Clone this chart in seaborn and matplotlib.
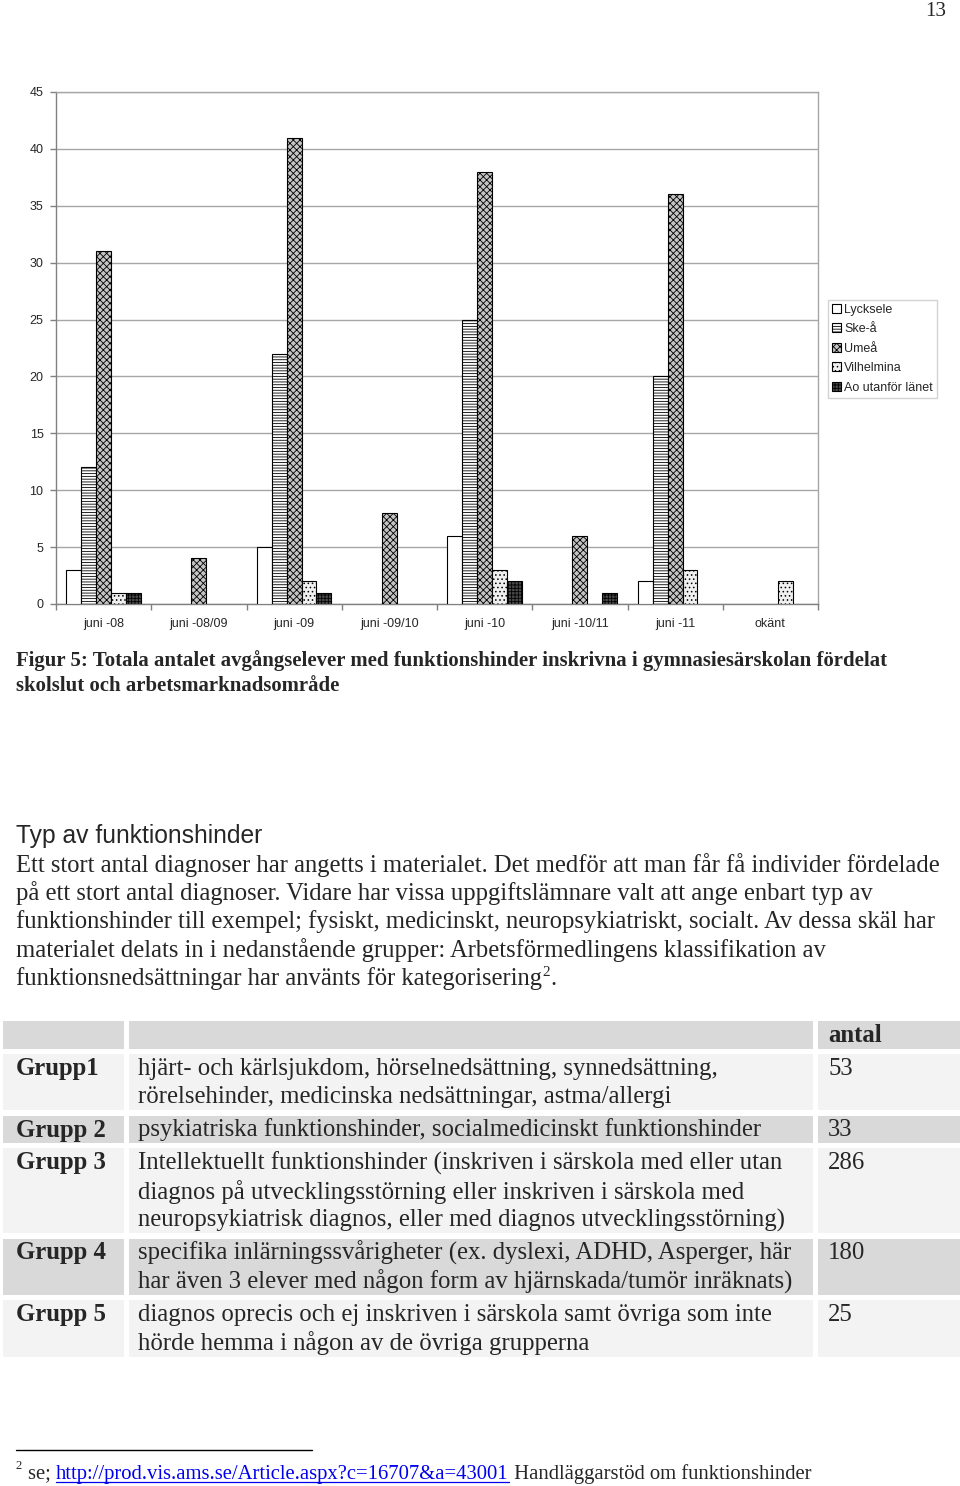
import numpy as np
import pandas as pd
import matplotlib
matplotlib.use("Agg")
import matplotlib.pyplot as plt
import seaborn as sns
from matplotlib.patches import Rectangle, Patch
from matplotlib.colors import to_hex

# ---------------- data ----------------
periods = ["juni -08", "juni -08/09", "juni -09", "juni -09/10",
           "juni -10", "juni -10/11", "juni -11", "okänt"]
areas = ["Lycksele", "Ske-å", "Umeå", "Vilhelmina", "Ao utanför länet"]
lycksele = [3, 0, 5, 0, 6, 0, 2, 0]
skea = [12, 0, 22, 0, 25, 0, 20, 0]
umea = [31, 4, 41, 8, 38, 6, 36, 0]
vilhelmina = [1, 0, 2, 0, 3, 0, 3, 2]
ao_utanfor = [1, 0, 1, 0, 2, 1, 0, 0]
y_ticks = [0, 5, 10, 15, 20, 25, 30, 35, 40, 45]

caption_lines = [
    "Figur 5: Totala antalet avgångselever med funktionshinder inskrivna i gymnasiesärskolan fördelat",
    "skolslut och arbetsmarknadsområde",
]
heading = "Typ av funktionshinder"
body_lines = [
    "Ett stort antal diagnoser har angetts i materialet. Det medför att man får få individer fördelade",
    "på ett stort antal diagnoser. Vidare har vissa uppgiftslämnare valt att ange enbart typ av",
    "funktionshinder till exempel; fysiskt, medicinskt, neuropsykiatriskt, socialt. Av dessa skäl har",
    "materialet delats in i nedanstående grupper: Arbetsförmedlingens klassifikation av",
    "funktionsnedsättningar har använts för kategorisering",
]
table_header = "antal"
groups = ["Grupp1", "Grupp 2", "Grupp 3", "Grupp 4", "Grupp 5"]
group_counts = ["53", "33", "286", "180", "25"]
group_desc = [
    ["hjärt- och kärlsjukdom, hörselnedsättning, synnedsättning,",
     "rörelsehinder, medicinska nedsättningar, astma/allergi"],
    ["psykiatriska funktionshinder, socialmedicinskt funktionshinder"],
    ["Intellektuellt funktionshinder (inskriven i särskola med eller utan",
     "diagnos på utvecklingsstörning eller inskriven i särskola med",
     "neuropsykiatrisk diagnos, eller med diagnos utvecklingsstörning)"],
    ["specifika inlärningssvårigheter (ex. dyslexi, ADHD, Asperger, här",
     "har även 3 elever med någon form av hjärnskada/tumör inräknats)"],
    ["diagnos oprecis och ej inskriven i särskola samt övriga som inte",
     "hörde hemma i någon av de övriga grupperna"],
]
foot_pre = "se; "
foot_link = "http://prod.vis.ams.se/Article.aspx?c=16707&a=43001"
foot_post = " Handläggarstöd om funktionshinder"
page_number = "13"

# ---------------- style ----------------
sns.set_style("white")
plt.rcParams["hatch.linewidth"] = 0.6
SANS = ["Liberation Sans", "DejaVu Sans"]
SERIF = ["Liberation Serif", "DejaVu Serif"]

W, H = 960, 1486
fig = plt.figure(figsize=(W / 100, H / 100), dpi=100)
fig.patch.set_facecolor("white")

page = fig.add_axes([0, 0, 1, 1])
page.set_xlim(0, W)
page.set_ylim(H, 0)
page.axis("off")

renderer = fig.canvas.get_renderer()


def text_width(s, size, **kw):
    t = page.text(0, 0, s, fontsize=size, **kw)
    w = t.get_window_extent(renderer).width
    t.remove()
    return w


def fit_size(s, target, **kw):
    return 12.0 * target / text_width(s, 12.0, **kw)


# ---------------- chart ----------------
ax = fig.add_axes([56 / W, 1 - 604 / H, 762 / W, 512 / H])

rows = []
for area, vals in zip(areas, [lycksele, skea, umea, vilhelmina, ao_utanfor]):
    for p, v in zip(periods, vals):
        if v > 0:
            rows.append({"period": p, "område": area, "antal": v})
df = pd.DataFrame(rows)

face = {"Lycksele": "#ffffff", "Ske-å": "#fdfdfd", "Umeå": "#c4c4c4",
        "Vilhelmina": "#efefef", "Ao utanför länet": "#4a4a4a"}
hatches = {"Lycksele": "", "Ske-å": "------", "Umeå": "xxxxx",
           "Vilhelmina": "....", "Ao utanför länet": "+++++"}

sns.barplot(data=df, x="period", y="antal", hue="område", order=periods,
            hue_order=areas, palette=face, width=0.78, errorbar=None,
            edgecolor="black", linewidth=0.8, legend=False, ax=ax, zorder=3)

lookup = {to_hex(c): a for a, c in face.items()}
for patch in ax.patches:
    a = lookup.get(to_hex(patch.get_facecolor()))
    if a is not None:
        patch.set_hatch(hatches[a])
        patch.set_edgecolor("black")

ax.set_ylim(0, 45)
ax.set_xlim(-0.5, len(periods) - 0.5)
ax.set_yticks(y_ticks)
ax.set_xlabel("")
ax.set_ylabel("")
ax.yaxis.grid(True, color="#a6a6a6", linewidth=1.0, zorder=0)
ax.set_axisbelow(True)
for s in ["top", "right"]:
    ax.spines[s].set_color("#a6a6a6")
    ax.spines[s].set_linewidth(1.0)
for s in ["left", "bottom"]:
    ax.spines[s].set_color("#808080")
    ax.spines[s].set_linewidth(1.0)
ax.set_xticks(np.arange(len(periods)))
ax.set_xticklabels(periods)
ax.set_xticks(np.arange(len(periods) + 1) - 0.5, minor=True)
ax.tick_params(axis="x", which="major", length=0, pad=10, labelsize=9)
ax.tick_params(axis="x", which="minor", length=4, direction="out",
               color="#808080", width=1)
ax.tick_params(axis="y", length=4, direction="out", color="#808080",
               width=1, pad=5, labelsize=9)
ax.tick_params(axis="both", which="both", bottom=True, left=True)
for lab in ax.get_xticklabels() + ax.get_yticklabels():
    lab.set_fontfamily(SANS)

handles = [Patch(facecolor=face[a], edgecolor="black", hatch=hatches[a],
                 linewidth=0.8, label=a) for a in areas]
leg = fig.legend(handles=handles, loc="upper left",
                 bbox_to_anchor=(828 / W, 1 - 300 / H), borderaxespad=0,
                 prop={"family": SANS, "size": 9}, frameon=True,
                 fancybox=False, edgecolor="#c8c8c8", handlelength=0.75,
                 handleheight=0.75, handletextpad=0.25, labelspacing=0.6,
                 borderpad=0.3)
leg.get_frame().set_linewidth(1.0)

# ---------------- page text ----------------
sz = fit_size(page_number, 21, family=SERIF)
page.text(946, 11, page_number, fontsize=sz, family=SERIF, ha="right", va="center")

sz = fit_size(caption_lines[0], 864, family=SERIF, weight="bold")
for y, line in zip([661, 686], caption_lines):
    page.text(16, y, line, fontsize=sz, family=SERIF, weight="bold",
              ha="left", va="center")

sz = fit_size(heading, 247, family=SANS)
page.text(16, 836, heading, fontsize=sz, family=SANS, ha="left", va="center")

bsz = fit_size(body_lines[0], 924, family=SERIF)
body_y = [865, 893, 922, 950, 979]
for y, line in zip(body_y, body_lines):
    page.text(16, y, line, fontsize=bsz, family=SERIF, ha="left", va="center")
w_last = text_width(body_lines[-1], bsz, family=SERIF)
page.text(16 + w_last + 0.5, body_y[-1] - 7, "2", fontsize=bsz * 0.62,
          family=SERIF, ha="left", va="center")
w2 = text_width("2", bsz * 0.62, family=SERIF)
page.text(16 + w_last + w2 + 1, body_y[-1], ".", fontsize=bsz, family=SERIF,
          ha="left", va="center")

DARK, LIGHT = "#d9d9d9", "#f3f3f3"
row_spans = [(1021, 1049), (1054, 1110), (1116, 1143), (1148, 1233),
             (1239, 1295), (1300, 1357)]
row_cols = [DARK, LIGHT, DARK, LIGHT, DARK, LIGHT]
col_spans = [(3, 124), (129, 813), (818, 960)]
for (y0, y1), c in zip(row_spans, row_cols):
    for (x0, x1) in col_spans:
        page.add_patch(Rectangle((x0, y0), x1 - x0, y1 - y0, facecolor=c,
                                 edgecolor="none", zorder=0))

tsz = fit_size(group_desc[1][0], 622, family=SERIF)
page.text(828, 1036, table_header, fontsize=tsz, family=SERIF, weight="bold",
          ha="left", va="center")
line_ys = [[1069, 1097], [1130], [1163, 1192, 1220], [1253, 1282], [1315, 1343]]
for g, cnt, desc, ys in zip(groups, group_counts, group_desc, line_ys):
    page.text(16, ys[0], g, fontsize=tsz, family=SERIF, weight="bold",
              ha="left", va="center")
    page.text(828, ys[0], cnt, fontsize=tsz, family=SERIF, ha="left", va="center")
    for y, line in zip(ys, desc):
        page.text(138, y, line, fontsize=tsz, family=SERIF, ha="left", va="center")

page.plot([16, 312], [1450, 1450], color="black", linewidth=1.0)
fsz = fit_size(foot_pre + foot_link + foot_post, 784, family=SERIF)
page.text(16, 1466, "2", fontsize=fsz * 0.62, family=SERIF, ha="left", va="center")
x = 28
fy = 1474
page.text(x, fy, foot_pre, fontsize=fsz, family=SERIF, ha="left", va="center")
x += text_width(foot_pre, fsz, family=SERIF)
page.text(x, fy, foot_link, fontsize=fsz, family=SERIF, color="#0000ee",
          ha="left", va="center")
wl = text_width(foot_link, fsz, family=SERIF)
page.plot([x, x + wl], [fy + 8, fy + 8], color="#0000ee", linewidth=0.9)
x += wl
page.text(x, fy, foot_post, fontsize=fsz, family=SERIF, ha="left", va="center")

fig.savefig("out.png", dpi=100, facecolor="white")
